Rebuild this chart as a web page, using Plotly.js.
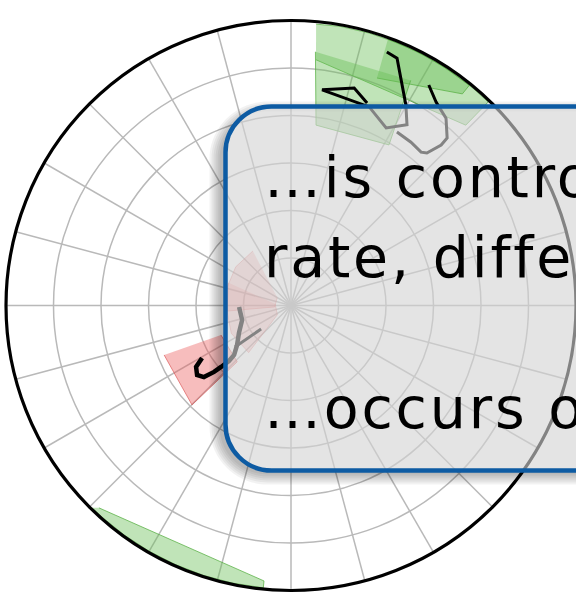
<!DOCTYPE html>
<html>
<head>
<meta charset="utf-8">
<script src="https://cdn.plot.ly/plotly-3.0.1.min.js"></script>
<style>
html,body{margin:0;padding:0;overflow:hidden;background:#fff;}
#chart{width:576px;height:596px;}
.annotation-text{letter-spacing:2.8px;}
</style>
</head>
<body>
<div id="chart"></div>
<script>
// ---- data (polar: theta in degrees, r on a 0-90 scale) ----
const greenBandTheta = [84.9, 80, 74, 68, 62, 56, 50, 45.9, 45.9, 84.2];
const greenBandR     = [89.2, 89.5, 89.5, 89.5, 89.5, 89.5, 89.5, 89.5, 79.3, 78];
const greenDarkTheta = [70, 64, 58, 51, 51, 69.3];
const greenDarkR     = [89.5, 89.5, 89.5, 89.5, 86, 76.8];
const greenLowTheta  = [84.5, 82.1, 58.6, 62];
const greenLowR      = [80.5, 57.5, 59.4, 80.5];
const greenSouthTheta = [226.5, 264.4, 264.4, 258, 252, 246, 240, 234, 228, 225.5];
const greenSouthR     = [88.1, 87.4, 89.6, 89.6, 89.6, 89.6, 89.6, 89.6, 89.6, 89.6];

const redOuterTheta = [201.3, 225.1, 226.3, 202.9];
const redOuterR     = [43, 44.3, 24.6, 24];
const redInnerATheta = [125, 145, 165, 185, 185, 150];
const redInnerAR     = [21, 21.3, 21, 20.3, 5.2, 5];
const redInnerBTheta = [160, 185, 205, 228, 214, 175];
const redInnerBR     = [21, 20.3, 20.8, 20, 5.2, 5];

const pathNorthTheta = [69.3, 66.8, 60.2, 57.3, 61.8, 68.5, 81.8, 73.8, 69.4];
const pathNorthR     = [85.6, 85.0, 73.0, 67.8, 63.6, 67.4, 68.8, 71.5, 68.3];
const pathNETheta = [58.0, 54.5, 50.4, 47.0, 46.9, 48.3, 49.7, 53.7, 58.6];
const pathNER     = [82.1, 78.9, 76.8, 72.3, 69.4, 64.5, 63.5, 64.0, 64.2];
const pathSWTheta = [210.5, 212.9, 216.5, 219.4, 220.8, 221.3, 221.8, 221.0, 216.2, 207.9, 196.5, 181.7];
const pathSWR     = [32.6, 35.7, 36.9, 35.6, 32.1, 29.4, 26.3, 23.8, 21.1, 18.6, 16.1, 16.4];
const branchSWTheta = [216.5, 218.1];
const branchSWR     = [22, 12];

const textLines = ['\u2026is contro', 'rate, diffe', '\u2026occurs o'];

// ---- styling ----
const W = 576, H = 596;
const greenFill = 'rgba(105,190,85,0.42)';
const greenLine = 'rgba(85,175,65,0.75)';
const redFill = 'rgba(235,90,90,0.40)';
const redLine = 'rgba(220,90,90,0.7)';

function poly(theta, r, fill, line) {
  return {type:'scatterpolar', theta: theta, r: r, mode:'lines', fill:'toself',
    fillcolor: fill, line:{color: line, width: 1}, hoverinfo:'skip', showlegend:false};
}
function path(theta, r, w) {
  return {type:'scatterpolar', theta: theta, r: r, mode:'lines',
    line:{color:'#000', width: w}, hoverinfo:'skip', showlegend:false};
}

const traces = [
  poly(greenBandTheta, greenBandR, greenFill, greenLine),
  poly(greenDarkTheta, greenDarkR, greenFill, greenLine),
  poly(greenLowTheta, greenLowR, greenFill, greenLine),
  poly(greenSouthTheta, greenSouthR, greenFill, greenLine),
  poly(redOuterTheta, redOuterR, redFill, redLine),
  poly(redInnerATheta, redInnerAR, 'rgba(235,90,90,0.25)', 'rgba(220,90,90,0.4)'),
  poly(redInnerBTheta, redInnerBR, 'rgba(235,90,90,0.25)', 'rgba(220,90,90,0.4)'),
  path(pathNorthTheta, pathNorthR, 3),
  path(pathNETheta, pathNER, 3),
  path(pathSWTheta, pathSWR, 4.5),
  path(branchSWTheta, branchSWR, 3)
];

// helpers to express pixel geometry in paper units
function px(x){ return x / W; }
function py(y){ return 1 - y / H; }
function rrect(x0, y0, x1, y1, r) {
  const k = 0.5523 * r;
  return 'M' + px(x0 + r) + ',' + py(y0) +
    ' L' + px(x1 - r) + ',' + py(y0) +
    ' C' + px(x1 - r + k) + ',' + py(y0) + ' ' + px(x1) + ',' + py(y0 + r - k) + ' ' + px(x1) + ',' + py(y0 + r) +
    ' L' + px(x1) + ',' + py(y1 - r) +
    ' C' + px(x1) + ',' + py(y1 - r + k) + ' ' + px(x1 - r + k) + ',' + py(y1) + ' ' + px(x1 - r) + ',' + py(y1) +
    ' L' + px(x0 + r) + ',' + py(y1) +
    ' C' + px(x0 + r - k) + ',' + py(y1) + ' ' + px(x0) + ',' + py(y1 - r + k) + ' ' + px(x0) + ',' + py(y1 - r) +
    ' L' + px(x0) + ',' + py(y0 + r) +
    ' C' + px(x0) + ',' + py(y0 + r - k) + ' ' + px(x0 + r - k) + ',' + py(y0) + ' ' + px(x0 + r) + ',' + py(y0) + ' Z';
}

const bx0 = 225.5, by0 = 106.5, bx1 = 700, by1 = 470.5, brad = 46;
const shapes = [];
[2, 4, 6, 8, 10, 12].forEach(function(e) {
  shapes.push({type:'path', xref:'paper', yref:'paper', layer:'above',
    path: rrect(bx0 - e - 4, by0 - e + 7, bx1 + e, by1 + e + 2, brad + e) + ' ' + rrect(bx0, by0, bx1, by1, brad),
    fillrule:'evenodd', fillcolor:'rgba(0,0,0,0.05)', line:{width:0}});
});
shapes.push({type:'path', xref:'paper', yref:'paper', layer:'above',
  path: rrect(bx0, by0, bx1, by1, brad),
  fillcolor:'rgba(212,212,212,0.62)', line:{color:'#0d5ba3', width:4.5}});

const font = {family:'DejaVu Sans', size:57, color:'#000'};
const annotations = [
  {text: textLines[0], x: px(262), y: py(177)},
  {text: textLines[1], x: px(262), y: py(257)},
  {text: textLines[2], x: px(262), y: py(408)}
].map(function(a){
  return Object.assign(a, {xref:'paper', yref:'paper', xanchor:'left', yanchor:'middle',
    showarrow:false, font: font, align:'left'});
});

const layout = {
  width: W, height: H,
  margin: {l:0, r:0, t:0, b:0},
  paper_bgcolor:'#fff',
  showlegend:false,
  polar: {
    domain: {x:[6/W, 1], y:[5.5/H, 575.5/H]},
    bgcolor:'#fff',
    angularaxis: {tickmode:'linear', tick0:0, dtick:15, showticklabels:false, ticks:'',
      showline:true, linecolor:'#000', linewidth:3.2, gridcolor:'#b9b9b9', gridwidth:1.5},
    radialaxis: {range:[0, 90], tickmode:'linear', tick0:0, dtick:15, showticklabels:false,
      ticks:'', showline:false, gridcolor:'#b9b9b9', gridwidth:1.5}
  },
  shapes: shapes,
  annotations: annotations
};

Plotly.newPlot('chart', traces, layout, {displayModeBar:false, staticPlot:true});
</script>
</body>
</html>
